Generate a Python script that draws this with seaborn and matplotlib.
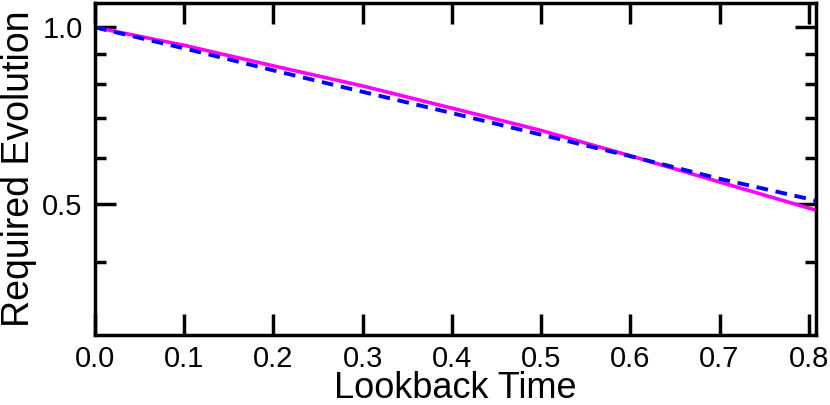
import numpy as np
import pandas as pd
import matplotlib
matplotlib.use("Agg")
import matplotlib.pyplot as plt
import seaborn as sns
from matplotlib.ticker import FixedLocator, NullFormatter

# data
lookback = [0.0, 0.1, 0.2, 0.3, 0.4, 0.5, 0.6, 0.7, 0.8, 0.808]
evo_solid = [1.0, 0.932, 0.860, 0.795, 0.729, 0.668, 0.605, 0.546, 0.493, 0.489]
evo_dashed = [1.0, 0.921, 0.845, 0.777, 0.715, 0.657, 0.604, 0.553, 0.511, 0.507]

sns.set_style("ticks")
plt.rcParams['font.family'] = ['Liberation Sans', 'DejaVu Sans']
plt.rcParams['text.color'] = 'black'
plt.rcParams['axes.labelcolor'] = 'black'
plt.rcParams['xtick.color'] = 'black'
plt.rcParams['ytick.color'] = 'black'

df = pd.DataFrame({'t': lookback, 'solid': evo_solid, 'dashed': evo_dashed})

fig = plt.figure(figsize=(8.3, 4.05), dpi=100)
ax = fig.add_axes([0.1145, 0.1728, 0.8685, 0.8198])

sns.lineplot(data=df, x='t', y='solid', ax=ax, color='#FF00FF', lw=2.6)
sns.lineplot(data=df, x='t', y='dashed', ax=ax, color='#0000FF', lw=2.8)
ax.lines[1].set_dashes([3, 2])

ax.set_yscale('log')
ax.set_xlim(0, 0.808)
ax.set_ylim(0.3, 1.1)

ax.set_xticks(np.arange(0, 0.81, 0.1))
ax.set_xticklabels([f"{v:.1f}" for v in np.arange(0, 0.81, 0.1)])
ax.yaxis.set_major_locator(FixedLocator([0.5, 1.0]))
ax.set_yticklabels(['0.5', '1.0'])
ax.yaxis.set_minor_locator(FixedLocator([0.4, 0.6, 0.7, 0.8, 0.9]))
ax.yaxis.set_minor_formatter(NullFormatter())

ax.tick_params(which='both', direction='in', top=True, right=True,
               labelsize=21, colors='black', pad=9)
ax.tick_params(axis='x', pad=7)
ax.tick_params(which='major', length=15, width=2.5)
ax.tick_params(which='minor', length=8, width=2.5)

for s in ax.spines.values():
    s.set_linewidth(2.5)
    s.set_color('black')

ax.set_xlabel('Lookback Time', fontsize=26, labelpad=-1)
ax.set_ylabel('Required Evolution', fontsize=27, labelpad=4)

fig.savefig('out.png', dpi=100)
